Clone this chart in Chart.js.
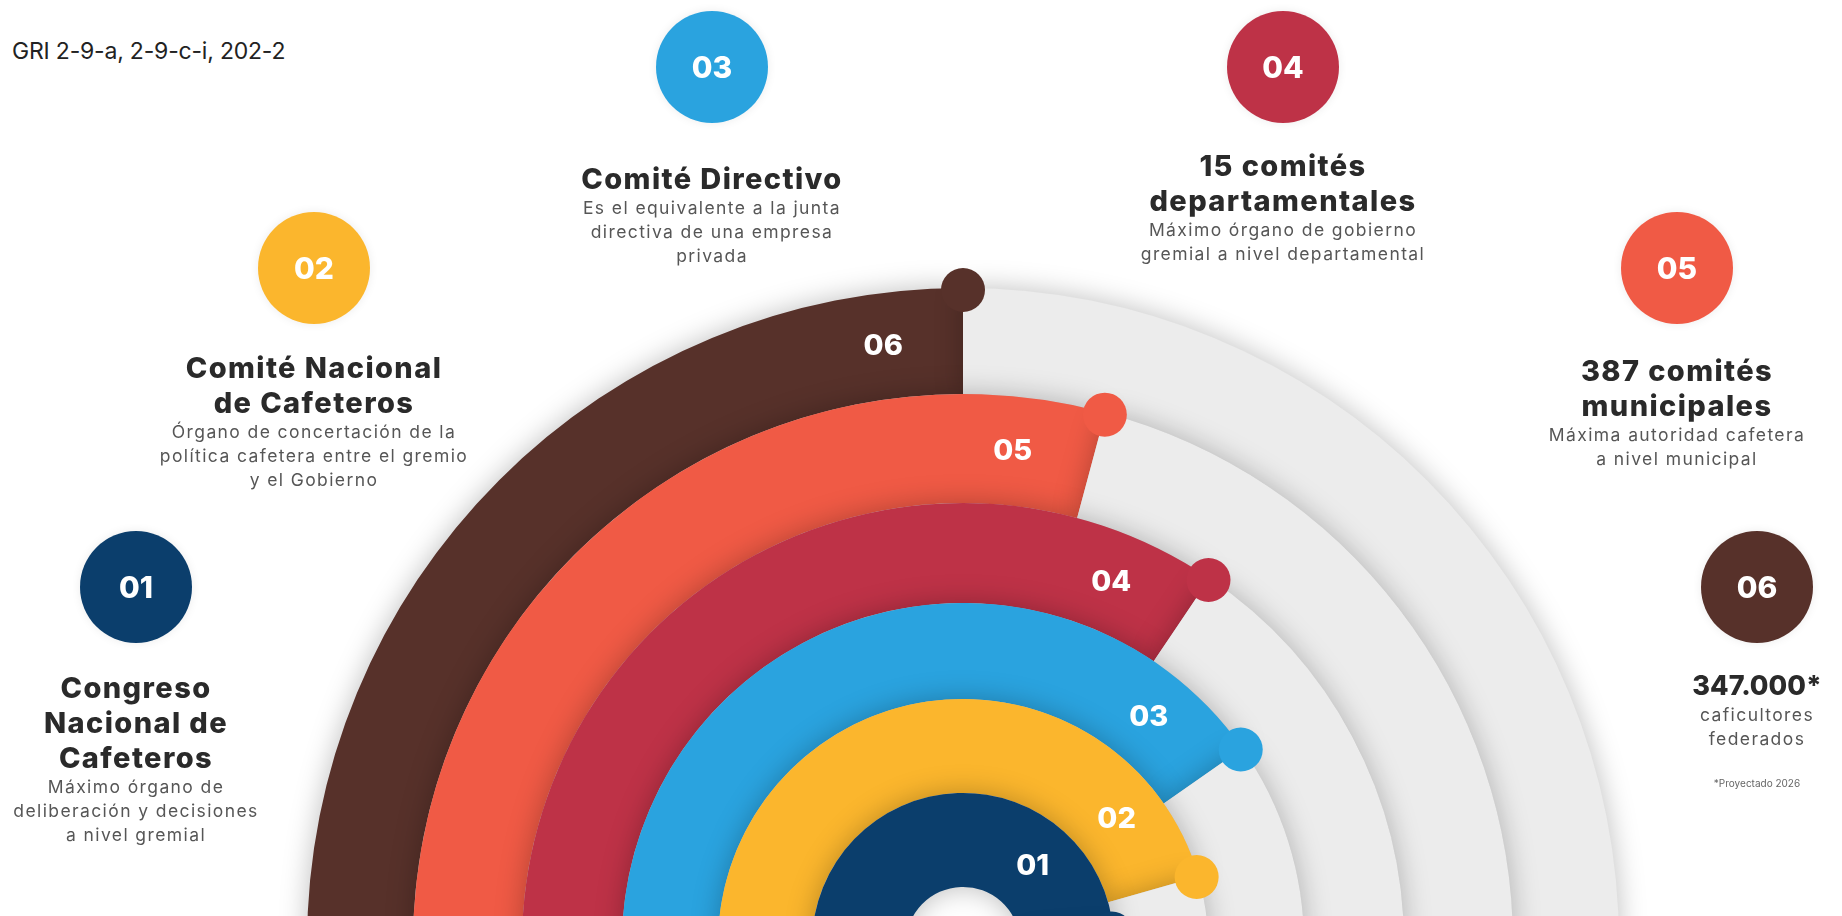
<!DOCTYPE html>
<html lang="es">
<head>
<meta charset="UTF-8">
<title>Estructura gremial</title>
<script src="https://cdn.jsdelivr.net/npm/chart.js"></script>
<style>
    html, body {
        margin: 0;
        padding: 0;
        width: 1842px;
        height: 916px;
        overflow: hidden;
        background: #ffffff;
        font-family: Inter, 'Open Sans', sans-serif;
    }
    #wrap {
        position: absolute;
        left: 0;
        top: 0;
        width: 1842px;
        height: 1000px;
    }
    .gri {
        position: absolute;
        left: 12px;
        top: 37px;
        font-size: 23px;
        color: #222;
        letter-spacing: -0.2px;
    }
    .badge {
        position: absolute;
        width: 112px;
        height: 112px;
        border-radius: 50%;
        color: #fff;
        font-weight: 800;
        font-size: 30px;
        display: flex;
        align-items: center;
        justify-content: center;
        box-shadow: 0 0 10px rgba(0,0,0,0.08);
    }
    .block {
        position: absolute;
        width: 400px;
        text-align: center;
        white-space: pre-line;
    }
    .block .t {
        font-weight: 800;
        font-size: 29px;
        line-height: 35px;
        letter-spacing: 1.4px;
        color: #2a2a2a;
    }
    .block .t.num {
        font-size: 27px;
        letter-spacing: 0;
    }
    .block .d {
        font-size: 17.5px;
        line-height: 24px;
        color: #565656;
        letter-spacing: 1.4px;
    }
    .block .n {
        font-size: 10px;
        color: #666;
        margin-top: 26px;
    }
</style>
</head>
<body>
<div class="gri">GRI 2-9-a, 2-9-c-i, 202-2</div>
<div id="wrap"><canvas id="rings" width="1842" height="1000"></canvas></div>
<div id="texts"></div>

<script>
// numbers and labels of the six levels, inner ring first
const categories = ['01', '02', '03', '04', '05', '06'];
// how far each ring goes, in degrees out of the 180 of the half circle
const sweep = [176, 164, 145, 124, 105, 90];
const colors = ['#0b3e6c', '#fbb62d', '#2aa3df', '#be3247', '#f05a45', '#57312a'];
const titles = [
    'Congreso\nNacional de\nCafeteros',
    'Comité Nacional\nde Cafeteros',
    'Comité Directivo',
    '15 comités\ndepartamentales',
    '387 comités\nmunicipales',
    '347.000*'
];
const descriptions = [
    'Máximo órgano de\ndeliberación y decisiones\na nivel gremial',
    'Órgano de concertación de la\npolítica cafetera entre el gremio\ny el Gobierno',
    'Es el equivalente a la junta\ndirectiva de una empresa\nprivada',
    'Máximo órgano de gobierno\ngremial a nivel departamental',
    'Máxima autoridad cafetera\na nivel municipal',
    'caficultores\nfederados'
];
const note = '*Proyectado 2026';

// ring thickness, relative
const ringWeights = [0.94, 0.94, 0.96, 1.0, 1.09, 1.06];

// where the badges and text blocks go (center x, badge center y, text top)
const spots = [
    [136, 587, 670],
    [314, 268, 350],
    [712, 67, 161],
    [1283, 67, 148],
    [1677, 268, 353],
    [1757, 587, 668]
];

const texts = document.getElementById('texts');
categories.forEach((c, i) => {
    const [cx, by, ty] = spots[i];
    const b = document.createElement('div');
    b.className = 'badge';
    b.style.left = (cx - 56) + 'px';
    b.style.top = (by - 56) + 'px';
    b.style.background = colors[i];
    b.textContent = c;
    texts.appendChild(b);

    const blk = document.createElement('div');
    blk.className = 'block';
    blk.style.left = (cx - 200) + 'px';
    blk.style.top = ty + 'px';
    blk.innerHTML = '<div class="t"></div><div class="d"></div>' + (i === 5 ? '<div class="n"></div>' : '');
    blk.querySelector('.t').textContent = titles[i];
    blk.querySelector('.d').textContent = descriptions[i];
    if (i === 5) {
        blk.querySelector('.t').classList.add('num');
        blk.querySelector('.n').textContent = note;
    }
    texts.appendChild(blk);
});

// outer ring is the first dataset in a doughnut, so go from 06 down to 01
const order = categories.map((c, i) => i).reverse();

const shadowPlugin = {
    id: 'ringShadow',
    beforeDatasetDraw(chart) {
        const ctx = chart.ctx;
        ctx.save();
        ctx.shadowColor = 'rgba(0,0,0,0.26)';
        ctx.shadowBlur = 28;
    },
    afterDatasetDraw(chart) {
        chart.ctx.restore();
    }
};

// round knob at the end of each bar plus its number
const endPlugin = {
    id: 'ringEnds',
    afterDatasetsDraw(chart) {
        const ctx = chart.ctx;
        chart.data.datasets.forEach((ds, d) => {
            const arc = chart.getDatasetMeta(d).data[0];
            const p = arc.getProps(['x', 'y', 'startAngle', 'endAngle', 'innerRadius', 'outerRadius'], true);
            const r = p.outerRadius;
            ctx.save();
            ctx.fillStyle = ds.backgroundColor[0];
            ctx.beginPath();
            ctx.arc(p.x + Math.cos(p.endAngle) * (r - 2), p.y + Math.sin(p.endAngle) * (r - 2), 22, 0, Math.PI * 2);
            ctx.fill();

            const mid = (p.innerRadius + p.outerRadius) / 2;
            const a = p.endAngle - 80 / mid;
            ctx.fillStyle = '#ffffff';
            ctx.font = '800 29px Inter, sans-serif';
            ctx.textAlign = 'center';
            ctx.textBaseline = 'middle';
            ctx.fillText(ds.label, p.x + Math.cos(a) * mid, p.y + Math.sin(a) * mid);
            ctx.restore();
        });
    }
};

new Chart(document.getElementById('rings'), {
    type: 'doughnut',
    data: {
        datasets: order.map((i, k) => ({
            label: categories[i],
            data: [sweep[i], 180 - sweep[i]],
            backgroundColor: [colors[i], '#ececec'],
            borderWidth: 0,
            clip: false,
            weight: ringWeights[i],
            order: 6 - k
        }))
    },
    options: {
        responsive: false,
        animation: false,
        events: [],
        rotation: -90,
        circumference: 180,
        cutout: '8.7%',
        layout: { padding: { left: 307, right: 223, top: 288, bottom: 56 } },
        plugins: {
            legend: { display: false },
            tooltip: { enabled: false }
        }
    },
    plugins: [shadowPlugin, endPlugin]
});
</script>
</body>
</html>
